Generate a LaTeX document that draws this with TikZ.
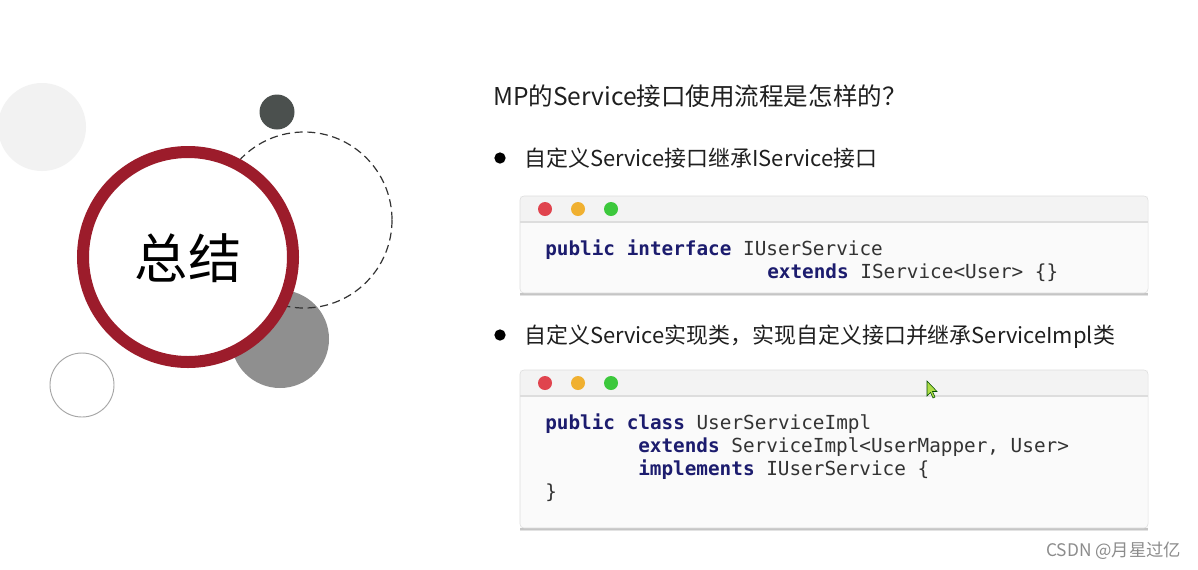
\documentclass[tikz,border=0pt]{standalone}
\usepackage{fontspec}
\setmainfont{Noto Sans CJK SC}
\setmonofont{DejaVu Sans Mono}
\usepackage{tikz}
\usetikzlibrary{shadows}

\definecolor{ringred}{HTML}{9C1C2B}
\definecolor{lightdisc}{HTML}{F2F2F2}
\definecolor{darkdisc}{HTML}{4B504E}
\definecolor{graydisc}{HTML}{8F8F8F}
\definecolor{kwblue}{HTML}{1C1C6E}
\definecolor{codegray}{HTML}{333333}
\definecolor{boxbody}{HTML}{FAFAFA}
\definecolor{boxhead}{HTML}{F3F3F3}
\definecolor{boxline}{HTML}{DDDDDD}
\definecolor{dotred}{HTML}{E0444E}
\definecolor{dotyellow}{HTML}{F0B030}
\definecolor{dotgreen}{HTML}{3CC83C}
\newcommand{\kwd}[1]{{\bfseries\color{kwblue}#1}}

\begin{document}
\begin{tikzpicture}[x=0.75pt,y=-0.75pt]
  \tikzset{
    title/.style={anchor=base west, inner sep=0pt, font=\fontsize{18.4}{22}\selectfont, text=black!88},
    txt/.style={anchor=base west, inner sep=0pt, font=\fontsize{16.45}{20}\selectfont, text=black!88},
    code/.style={anchor=base west, inner sep=0pt, font=\ttfamily\fontsize{14.5}{17}\selectfont, text=codegray},
    codebox/.style={fill=boxbody,
      drop shadow={opacity=0.22, shadow xshift=0pt, shadow yshift=-2.6pt},
      drop shadow={opacity=0.3, shadow xshift=0pt, shadow yshift=-1.2pt}},
    sepline/.style={draw=boxline, line width=0.8pt},
    dot/.style={circle, inner sep=0pt, minimum size=10.5pt},
    bul/.style={circle, fill=black, inner sep=0pt, minimum size=8.5pt},
  }
  \useasboundingbox[fill=white] (0,0) rectangle (1198,569);

  % circles on the left
  \fill[lightdisc] (42,127) circle [radius=44];
  \fill[graydisc] (280,339) circle [radius=49];
  \draw[black!80, line width=0.9pt, dash pattern=on 6pt off 3.5pt] (304,220) circle [radius=88];
  \draw[ringred, fill=white, line width=9pt] (188,257) circle [radius=105];
  \fill[darkdisc] (277,112) circle [radius=17.5];
  \draw[black!35, line width=0.7pt] (82,385) circle [radius=32];
  \node[font=\fontsize{40}{44}\selectfont] (summary) at (188,258) {总结};

  % question and bullets
  \node[title] (question) at (493,105) {MP的Service接口使用流程是怎样的？};
  \node[bul] (bulA) at (500,158) {};
  \node[txt] (stepA) at (524,166) {自定义Service接口继承IService接口};
  \node[bul] (bulB) at (500,335) {};
  \node[txt] (stepB) at (524,343) {自定义Service实现类，实现自定义接口并继承ServiceImpl类};

  % first code window
  \path[codebox] (520,196) rectangle (1148,293);
  \begin{scope}
    \clip[rounded corners=3pt] (520,196) rectangle (1148,293);
    \fill[boxhead] (520,196) rectangle (1148,222);
  \end{scope}
  \draw[sepline] (520,222) -- (1148,222);
  \draw[boxline, rounded corners=3pt] (520,196) rectangle (1148,293);
  \foreach \c [count=\i] in {dotred,dotyellow,dotgreen}
    \node[dot, fill=\c] (dotA\i) at ({545+33*(\i-1)},209) {};
  \node[code] (ifaceA) at (545,255) {\kwd{public} \kwd{interface} IUserService};
  \node[code] (ifaceB) at (767,278) {\kwd{extends} IService<User> \{\}};

  % second code window
  \path[codebox] (520,370) rectangle (1148,528);
  \begin{scope}
    \clip[rounded corners=3pt] (520,370) rectangle (1148,528);
    \fill[boxhead] (520,370) rectangle (1148,396);
  \end{scope}
  \draw[sepline] (520,396) -- (1148,396);
  \draw[boxline, rounded corners=3pt] (520,370) rectangle (1148,528);
  \foreach \c [count=\i] in {dotred,dotyellow,dotgreen}
    \node[dot, fill=\c] (dotB\i) at ({545+33*(\i-1)},383) {};
  \node[code] (implA) at (545,429) {\kwd{public} \kwd{class} UserServiceImpl};
  \node[code] (implB) at (638,452) {\kwd{extends} ServiceImpl<UserMapper, User>};
  \node[code] (implC) at (638,475) {\kwd{implements} IUserService \{};
  \node[code] (implD) at (545,498) {\}};

  % mouse pointer
  \filldraw[fill=yellow!60!green!80, draw=green!30!black, line width=0.4pt]
    (927,381) -- (927,396) -- (930.5,392.5) -- (933,398) -- (935,397)
    -- (932.5,391.5) -- (937,391.5) -- cycle;

  % watermark
  \node[anchor=base west, inner sep=0pt, font=\fontsize{13}{15}\selectfont, text=black!45]
    (mark) at (1046,556) {CSDN @月星过亿};
\end{tikzpicture}
\end{document}
